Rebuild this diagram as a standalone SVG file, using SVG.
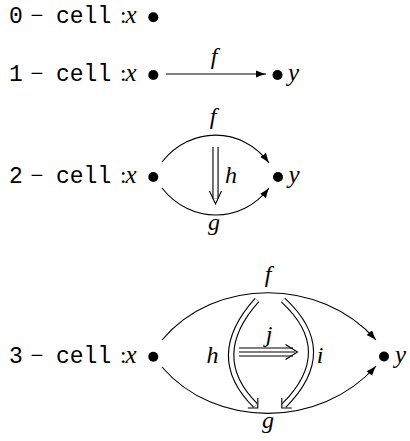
<svg xmlns="http://www.w3.org/2000/svg" width="410" height="441" viewBox="0 0 410 441">
<style>
.tt{font-family:"Liberation Mono","DejaVu Sans Mono",monospace;font-size:23px}
.rm{font-family:"Liberation Serif","DejaVu Serif",serif;font-size:23px}
.it{font-family:"Liberation Serif","DejaVu Serif",serif;font-size:25px;font-style:italic}
.lbl{font-family:"Liberation Serif","DejaVu Serif",serif;font-size:24px;font-style:italic;text-anchor:middle}
.arr{fill:none;stroke:#000;stroke-width:1.1;marker-end:url(#ah)}
.dblo{fill:none;stroke:#000;stroke-width:6.2}
.dbli{fill:none;stroke:#fff;stroke-width:4}
.head{fill:none;stroke:#000;stroke-width:1.1}
.dot{fill:#000}
</style>
<defs>
<marker id="ah" markerUnits="userSpaceOnUse" markerWidth="12" markerHeight="10" refX="10" refY="3.6" orient="auto">
<path d="M0,0 Q5,2.2 10,3.6 Q5,5 0,7.2 z" fill="#000"/>
</marker>
</defs>

<!-- row 0 -->
<g id="row0-label"><text y="23.3"><tspan class="tt" x="9">0</tspan><tspan class="rm" x="30.5">−</tspan><tspan class="tt" x="56">cell</tspan><tspan class="rm" x="120">:</tspan><tspan class="it" x="125.5">x</tspan></text></g>
<g id="row0-x"><circle class="dot" cx="153.3" cy="17.3" r="5"/></g>

<!-- row 1 -->
<g id="row1-label"><text y="81"><tspan class="tt" x="9">1</tspan><tspan class="rm" x="30.5">−</tspan><tspan class="tt" x="56">cell</tspan><tspan class="rm" x="120">:</tspan><tspan class="it" x="125.5">x</tspan></text></g>
<g id="row1-x"><circle class="dot" cx="153.3" cy="75" r="5"/></g>
<g id="row1-y"><circle class="dot" cx="277.5" cy="75" r="5"/><text class="it" x="288" y="81">y</text></g>

<!-- row 2 -->
<g id="row2-label"><text y="183.3"><tspan class="tt" x="9">2</tspan><tspan class="rm" x="30.5">−</tspan><tspan class="tt" x="56">cell</tspan><tspan class="rm" x="120">:</tspan><tspan class="it" x="125.5">x</tspan></text></g>
<g id="row2-x"><circle class="dot" cx="153.3" cy="177" r="5"/></g>
<g id="row2-y"><circle class="dot" cx="278" cy="177" r="5"/><text class="it" x="288.5" y="183.3">y</text></g>

<!-- row 3 -->
<g id="row3-label"><text y="363.3"><tspan class="tt" x="9">3</tspan><tspan class="rm" x="30.5">−</tspan><tspan class="tt" x="56">cell</tspan><tspan class="rm" x="120">:</tspan><tspan class="it" x="125.5">x</tspan></text></g>
<g id="row3-x"><circle class="dot" cx="153.3" cy="356.8" r="5"/></g>
<g id="row3-y"><circle class="dot" cx="384" cy="356.5" r="5"/><text class="it" x="395" y="363">y</text></g>

<g id="connectors">
<!-- row 1 -->
<path class="arr" d="M166,74 L266,74"/>
<text class="lbl" x="214" y="64">f</text>

<!-- row 2 -->
<path class="arr" d="M162,162 C190,126 242,126 269,163"/>
<path class="arr" d="M162,188 C190,224 242,224 269,188"/>
<text class="lbl" x="213" y="124">f</text>
<text class="lbl" x="214" y="230">g</text>
<path class="dblo" d="M215.5,147 L215.5,198.5"/>
<path class="dbli" d="M215.5,147 L215.5,198.5"/>
<path class="head" d="M209.5,191 L215.5,204 L221.5,191"/>
<text class="lbl" x="231" y="183.3">h</text>

<!-- row 3 -->
<path class="arr" d="M162,340 C215,277 320,277 376,340"/>
<path class="arr" d="M162,367 C215,429 320,429 376,366"/>
<text class="lbl" x="268" y="282">f</text>
<text class="lbl" x="268" y="428">g</text>
<path class="dblo" d="M257,300 Q206,356.5 255.5,405.5"/>
<path class="dbli" d="M257,300 Q206,356.5 255.5,405.5"/>
<path class="head" d="M257.8,398 L257.8,408 L247.8,408"/>
<path class="dblo" d="M283,300 Q338.5,351 284,405.5"/>
<path class="dbli" d="M283,300 Q338.5,351 284,405.5"/>
<path class="head" d="M281.8,398 L281.8,408 L291.8,408"/>
<text class="lbl" x="212.5" y="363">h</text>
<text class="lbl" x="320" y="363">i</text>
<path fill="none" stroke="#000" stroke-width="9" d="M239,352 L293,352"/>
<path fill="none" stroke="#fff" stroke-width="7" d="M239,352 L293,352"/>
<path fill="none" stroke="#000" stroke-width="1" d="M239,352 L295,352"/>
<path class="head" d="M285.5,344.5 L297.5,352 L285.5,359.5"/>
<text class="lbl" x="269" y="342">j</text>
</g>
</svg>
